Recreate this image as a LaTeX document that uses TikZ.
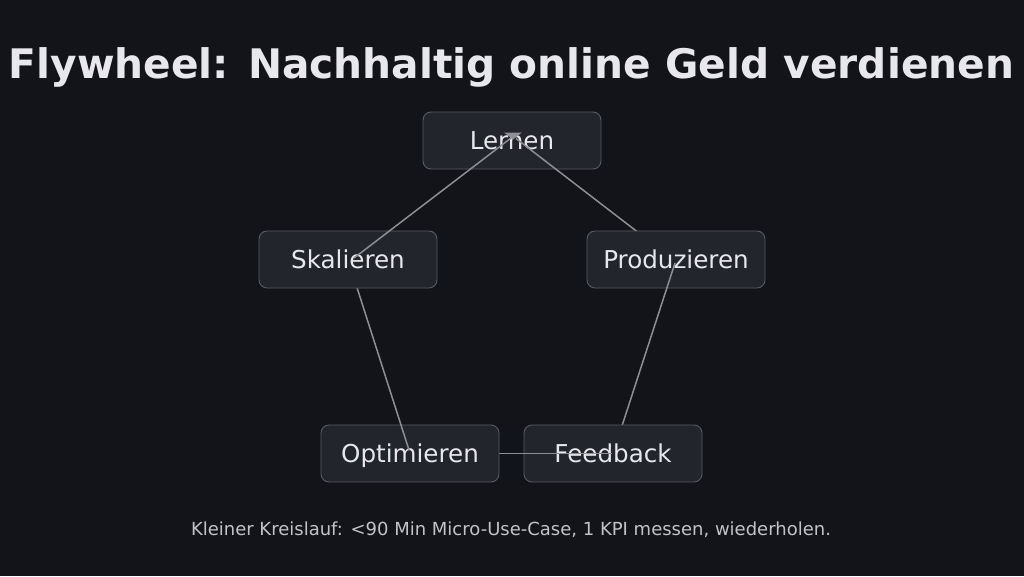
\documentclass[tikz,border=0pt]{standalone}
\usepackage{fontspec}
\setmainfont{DejaVu Sans}
\definecolor{bgc}{HTML}{131419}
\definecolor{boxfill}{HTML}{23252C}
\definecolor{boxline}{HTML}{595B63}
\definecolor{txt}{HTML}{E8E8EC}
\definecolor{edgec}{HTML}{8E8E93}
\definecolor{foot}{HTML}{C2C2C7}
\tikzset{
  stepbox/.style={draw=boxline, line width=0.9pt, fill=boxfill, rounded corners=8pt,
    minimum width=178pt, minimum height=57pt, text=txt,
    font=\fontsize{24.6pt}{29pt}\selectfont, text height=17.8pt, text depth=0pt, inner sep=0pt},
  link/.style={draw=edgec, line width=1.5pt},
  tipc/.style={fill=edgec}
}
\begin{document}
\begin{tikzpicture}[x=1pt,y=-1pt]
\fill[bgc] (0,0) rectangle (1024,576);
\useasboundingbox (0,0) rectangle (1024,576);
\node[anchor=base, text=txt, font=\bfseries\fontsize{40.7pt}{48pt}\selectfont] (title) at (511.5,78) {Flywheel: Nachhaltig online Geld verdienen};
% centre coordinates
\coordinate (lc) at (512,140.5);
\coordinate (pc) at (676,259.5);
\coordinate (fc) at (613,453.5);
\coordinate (oc) at (410,453.5);
\coordinate (sc) at (348,259.5);
% cycle, drawn in order so that each link lies over its source node
\node[stepbox] (L) at (lc) {Lernen};
\draw[link] ([shift={(4,-2)}]L.center) -- ([shift={(0,2)}]pc);
\node[stepbox] (P) at (pc) {Produzieren};
\draw[link] ([shift={(-1,3.5)}]P.center) -- (fc);
\node[stepbox] (F) at (fc) {Feedback};
\draw[link] ([shift={(-1,0)}]F.center) -- (oc);
\node[stepbox] (O) at (oc) {Optimieren};
\draw[link] ([shift={(-1,-3.5)}]O.center) -- (sc);
\node[stepbox] (S) at (sc) {Skalieren};
\coordinate (ltip) at ([shift={(1,-4)}]L.center);
\draw[link] ([shift={(6,-1.5)}]S.center) -- (ltip);
\fill[tipc] ([shift={(-9,-4)}]ltip) -- ([shift={(9,-4)}]ltip) -- ([shift={(0,3)}]ltip) -- cycle;
\node[anchor=base, text=foot, font=\fontsize{18pt}{22pt}\selectfont] (note) at (511,535) {Kleiner Kreislauf: <90 Min Micro-Use-Case, 1 KPI messen, wiederholen.};
\end{tikzpicture}
\end{document}
